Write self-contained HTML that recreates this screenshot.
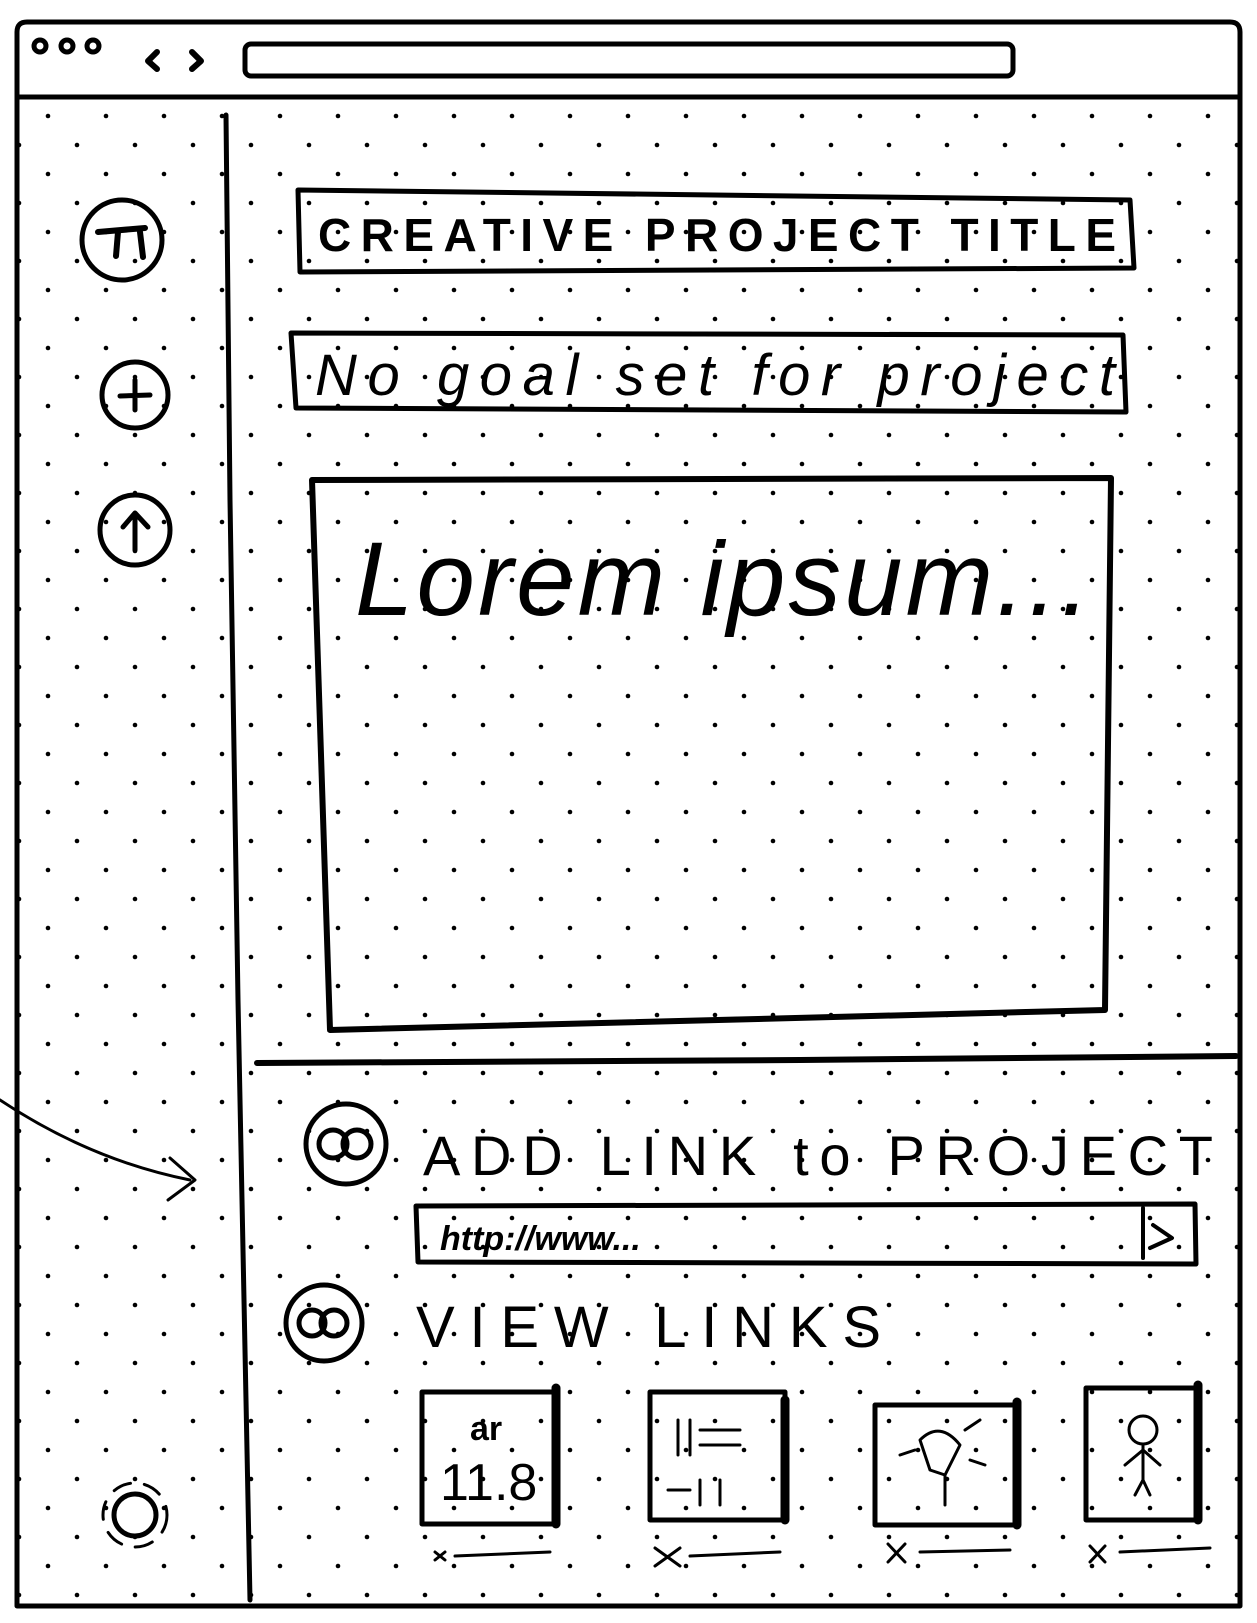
<!DOCTYPE html>
<html><head><meta charset="utf-8"><style>
html,body{margin:0;padding:0;background:#fff}
svg{display:block}
text{font-family:"Liberation Sans",sans-serif;fill:#000}
</style></head><body>
<svg width="1257" height="1623" viewBox="0 0 1257 1623" xmlns="http://www.w3.org/2000/svg">
<defs>
<pattern id="dots" x="48" y="116" width="58" height="58" patternUnits="userSpaceOnUse">
<circle cx="0" cy="0" r="2.3" fill="#000"/><circle cx="58" cy="0" r="2.3" fill="#000"/><circle cx="0" cy="58" r="2.3" fill="#000"/><circle cx="58" cy="58" r="2.3" fill="#000"/>
<circle cx="29" cy="29" r="2.3" fill="#000"/>
</pattern>
</defs>
<rect x="19" y="100" width="1219" height="1504" fill="url(#dots)"/>
<g fill="none" stroke="#000" stroke-linecap="round" stroke-linejoin="round">
<!-- frame -->
<path d="M17 1606 L17 32 Q17 22 27 22 L1230 22 Q1240 22 1240 32 L1240 1606 Z" stroke-width="5"/>
<line x1="17" y1="97" x2="1240" y2="97" stroke-width="5"/>
<circle cx="40" cy="46" r="6" stroke-width="5"/><circle cx="67" cy="46" r="6" stroke-width="5"/><circle cx="93" cy="46" r="6" stroke-width="5"/>
<path d="M157 52 L148 61 L157 69" stroke-width="6"/><path d="M192 52 L201 61 L192 69" stroke-width="6"/>
<rect x="245" y="44" width="768" height="32" rx="6" stroke-width="5"/>
<!-- sidebar divider -->
<path d="M226 115 L230 500 L238 1000 L250 1600" stroke-width="5"/>
<path d="M257 1063 L800 1060 L1236 1056" stroke-width="6"/>
<!-- icons -->
<circle cx="122" cy="240" r="40" stroke-width="5"/>
<path d="M98 232 L145 228 M118 232 L116 256 M140 232 L143 257" stroke-width="6"/>
<circle cx="135" cy="395" r="33" stroke-width="5"/>
<path d="M120 396 L150 395 M135 380 L135 410" stroke-width="5"/>
<circle cx="135" cy="530" r="35" stroke-width="5"/>
<path d="M135 550 L135 513 M123 527 L135 513 L148 527" stroke-width="5"/>
<circle cx="135" cy="1515" r="21" stroke-width="5"/>
<circle cx="135" cy="1515" r="32" stroke-width="3" stroke-dasharray="18 14"/>
<!-- boxes -->
<path d="M298 190 L1130 200 L1134 268 L300 272 Z" stroke-width="5"/>
<path d="M291 333 L1123 335 L1126 412 L296 408 Z" stroke-width="5"/>
<path d="M312 480 L1111 478 L1105 1010 L330 1030 Z" stroke-width="6"/>
<!-- arrow -->
<path d="M0 1100 Q90 1160 190 1180" stroke-width="3"/>
<path d="M170 1158 L195 1180 L168 1200" stroke-width="3"/>
<!-- add link -->
<circle cx="346" cy="1144" r="40" stroke-width="5"/>
<circle cx="333" cy="1144" r="14" stroke-width="5"/><circle cx="357" cy="1144" r="14" stroke-width="5"/>
<path d="M416 1206 L1195 1204 L1196 1264 L418 1262 Z" stroke-width="5"/>
<path d="M1143 1208 L1143 1258 M1153 1225 L1172 1238 L1150 1248" stroke-width="4"/>
<circle cx="324" cy="1323" r="38" stroke-width="5"/>
<circle cx="312" cy="1323" r="13" stroke-width="5"/><circle cx="334" cy="1323" r="13" stroke-width="5"/>
<!-- thumbnails -->
<g stroke-width="5">
<rect x="422" y="1392" width="134" height="132"/>
<rect x="650" y="1392" width="135" height="128"/>
<rect x="875" y="1405" width="142" height="120"/>
<rect x="1086" y="1388" width="112" height="132"/>
</g>
<g stroke-width="9"><line x1="556" y1="1388" x2="556" y2="1524"/><line x1="785" y1="1400" x2="785" y2="1520"/><line x1="1017" y1="1402" x2="1017" y2="1525"/><line x1="1198" y1="1385" x2="1198" y2="1520"/></g>
<g stroke-width="3">
<path d="M435 1552 L445 1560 M445 1552 L435 1560 M455 1556 L550 1552"/>
<path d="M655 1548 L680 1566 M680 1548 L655 1566 M690 1556 L780 1552"/>
<path d="M888 1544 L905 1562 M905 1544 L888 1562 M920 1552 L1010 1550"/>
<path d="M1090 1546 L1105 1562 M1105 1546 L1090 1562 M1120 1552 L1210 1548"/>
<path d="M678 1420 L678 1455 M690 1420 L690 1455 M700 1430 L740 1430 M700 1445 L740 1445 M668 1490 L690 1490 M700 1480 L700 1505 M720 1480 L720 1505"/>
<path d="M920 1440 Q940 1420 960 1445 L945 1475 L930 1470 Z M945 1475 L945 1505 M900 1455 L915 1450 M965 1430 L980 1420 M970 1460 L985 1465"/>
<circle cx="1143" cy="1430" r="14"/><path d="M1143 1444 L1143 1480 M1125 1465 L1143 1450 L1160 1465 M1135 1495 L1143 1480 L1150 1495"/>
</g>
</g>
<text x="470" y="1440" font-size="34" font-weight="bold">ar</text>
<text x="440" y="1500" font-size="52">11.8</text>
<text x="318" y="251" font-size="46" font-weight="bold" letter-spacing="2" textLength="800">CREATIVE PROJECT TITLE</text>
<text x="315" y="395" font-size="58" font-style="italic" textLength="800">No goal set for project</text>
<text x="355" y="615" font-size="105" font-style="italic" textLength="735">Lorem ipsum...</text>
<text x="423" y="1175" font-size="56" textLength="790">ADD LINK to PROJECT</text>
<text x="440" y="1250" font-size="34" font-style="italic" font-weight="bold">http://www...</text>
<text x="416" y="1347" font-size="58" textLength="465">VIEW LINKS</text>
</svg>
</body></html>
